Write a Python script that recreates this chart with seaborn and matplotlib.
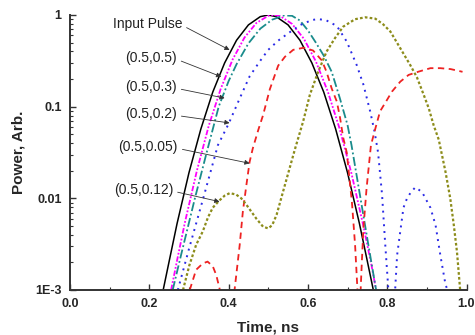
import numpy as np
import pandas as pd
import matplotlib
matplotlib.use("Agg")
import matplotlib.pyplot as plt
import seaborn as sns
from matplotlib.ticker import FixedLocator, NullFormatter, LogLocator

# ---------------- data ----------------
t_input = [0.235, 0.25, 0.27, 0.30, 0.33, 0.36, 0.39, 0.42, 0.45, 0.48, 0.50,
           0.52, 0.55, 0.58, 0.61, 0.64, 0.67, 0.70, 0.73, 0.75, 0.765]
p_input = [0.001, 0.00205, 0.0053, 0.019, 0.057, 0.144, 0.30, 0.53, 0.78, 0.96, 1.0,
           0.96, 0.78, 0.53, 0.30, 0.144, 0.057, 0.019, 0.0053, 0.00205, 0.001]

t_05_05 = [0.255, 0.27, 0.29, 0.32, 0.35, 0.38, 0.41, 0.44, 0.47, 0.50, 0.514,
           0.53, 0.56, 0.59, 0.62, 0.65, 0.68, 0.71, 0.74, 0.76, 0.772]
p_05_05 = [0.001, 0.0021, 0.0055, 0.020, 0.062, 0.156, 0.326, 0.567, 0.818, 0.98, 1.0,
           0.974, 0.80, 0.55, 0.312, 0.147, 0.0575, 0.0186, 0.0050, 0.0019, 0.001]

t_05_03 = [0.259, 0.28, 0.315, 0.345, 0.375, 0.40, 0.42, 0.45, 0.48, 0.51, 0.54,
           0.56, 0.58, 0.60, 0.62, 0.64, 0.66, 0.68, 0.70, 0.71, 0.73, 0.75, 0.772]
p_05_03 = [0.001, 0.0024, 0.01, 0.032, 0.1, 0.19, 0.29, 0.49, 0.71, 0.89, 0.99,
           0.98, 0.87, 0.68, 0.50, 0.36, 0.24, 0.126, 0.063, 0.038, 0.0117, 0.0036, 0.001]

t_05_02 = [0.272, 0.30, 0.336, 0.373, 0.40, 0.428, 0.453, 0.478, 0.50, 0.525, 0.55,
           0.58, 0.61, 0.625, 0.645, 0.673, 0.698, 0.723, 0.74, 0.757, 0.768, 0.777,
           0.787, 0.795, 0.803, 0.811, 0.82, 0.825, 0.833, 0.841, 0.85, 0.86, 0.871,
           0.888, 0.909, 0.922, 0.934, 0.947, 0.952, 0.96]
p_05_02 = [0.001, 0.0028, 0.01, 0.038, 0.065, 0.123, 0.214, 0.309, 0.417, 0.525, 0.63,
           0.776, 0.881, 0.902, 0.881, 0.759, 0.513, 0.285, 0.174, 0.089, 0.0537, 0.0316,
           0.011, 0.00316, 0.001, 0.00001, 0.001, 0.0024, 0.00437, 0.0079, 0.0100, 0.0117, 0.0132,
           0.0117, 0.0079, 0.0051, 0.0024, 0.00115, 0.001, 0.00001]

t_05_005 = [0.302, 0.318, 0.335, 0.347, 0.36, 0.369, 0.378, 0.395,
            0.415, 0.428, 0.436, 0.445, 0.453, 0.461, 0.475, 0.487, 0.504, 0.525, 0.542,
            0.563, 0.59, 0.613, 0.635, 0.647, 0.66, 0.673, 0.681, 0.689, 0.698, 0.711,
            0.719, 0.725, 0.729,
            0.733, 0.736, 0.74, 0.748, 0.759, 0.77, 0.782, 0.799, 0.812, 0.833, 0.854,
            0.879, 0.909, 0.934, 0.96, 0.99]
p_05_005 = [0.001, 0.00166, 0.00195, 0.00204, 0.00182, 0.00145, 0.001, 0.00001,
            0.001, 0.0031, 0.0072, 0.0141, 0.025, 0.035, 0.056, 0.081, 0.155, 0.28, 0.35,
            0.417, 0.44, 0.41, 0.32, 0.24, 0.158, 0.1135, 0.076, 0.046, 0.0316, 0.0091,
            0.0031, 0.001, 0.00001,
            0.001, 0.002, 0.0047, 0.0129, 0.038, 0.0575, 0.089, 0.1175, 0.146, 0.1875, 0.222,
            0.241, 0.263, 0.263, 0.257, 0.24]

t_05_012 = [0.285, 0.301, 0.318, 0.335, 0.348, 0.36, 0.377, 0.39, 0.403, 0.419, 0.432,
            0.445, 0.47, 0.487, 0.50, 0.51, 0.521, 0.537, 0.554, 0.567, 0.588, 0.605,
            0.626, 0.647, 0.668, 0.689, 0.719, 0.745, 0.77, 0.79, 0.808, 0.833, 0.858,
            0.875, 0.892, 0.905, 0.917, 0.93, 0.947, 0.959, 0.968, 0.976, 0.984]
p_05_012 = [0.001, 0.00186, 0.0031, 0.00437, 0.0062, 0.0079, 0.0095, 0.0107, 0.0114, 0.011, 0.010,
            0.0085, 0.006, 0.0049, 0.0047, 0.0051, 0.0066, 0.0117, 0.0214, 0.034, 0.069, 0.135,
            0.241, 0.398, 0.557, 0.746, 0.90, 0.944, 0.912, 0.79, 0.66, 0.434, 0.285,
            0.209, 0.135, 0.0955, 0.063, 0.0437, 0.0195, 0.01, 0.0051, 0.0026, 0.001]

x_ticks = [0.0, 0.2, 0.4, 0.6, 0.8, 1.0]
x_tick_labels = ["0.0", "0.2", "0.4", "0.6", "0.8", "1.0"]
y_ticks = [0.001, 0.01, 0.1, 1.0]
y_tick_labels = ["1E-3", "0.01", "0.1", "1"]

labels = ["Input Pulse", "(0.5,0.5)", "(0.5,0.3)", "(0.5,0.2)", "(0.5,0.05)", "(0.5,0.12)"]
label_xy = [(0.195, 0.80), (0.204, 0.34), (0.204, 0.164), (0.204, 0.083), (0.197, 0.0363), (0.185, 0.0124)]
arrow_xy = [(0.4025, 0.415), (0.3815, 0.212), (0.39, 0.124), (0.4025, 0.0664), (0.453, 0.0241), (0.377, 0.0092)]

# ---------------- style ----------------
sns.set_style("ticks")
plt.rcParams["font.family"] = ["Liberation Sans", "DejaVu Sans"]

fig = plt.figure(figsize=(4.75, 3.35), dpi=100)
ax = fig.add_axes([70 / 475, 45 / 335, 396.5 / 475, 275 / 335])
ax.set_yscale("log")

series = [
    (t_input, p_input, "#000000", "-", 1.1),
    (t_05_05, p_05_05, "#ff00ff", (0, (3, 1, 1, 1, 1, 1)), 1.3),
    (t_05_03, p_05_03, "#1a8c8c", (0, (5, 1.5, 1, 1.5)), 1.3),
    (t_05_02, p_05_02, "#2a2ae6", (0, (1, 2.5)), 1.4),
    (t_05_005, p_05_005, "#ee2222", (0, (3.5, 2.5)), 1.3),
    (t_05_012, p_05_012, "#8c8c1a", (0, (1.2, 1.0)), 1.6),
]
for tx, py, col, ls, lw in series:
    df = pd.DataFrame({"t": tx, "p": py})
    sns.lineplot(data=df, x="t", y="p", ax=ax, color=col, linestyle=ls, lw=lw,
                 estimator=None, sort=False, legend=False)

ax.set_xlim(0, 1.0)
ax.set_ylim(1e-3, 1.0)

ax.xaxis.set_major_locator(FixedLocator(x_ticks))
ax.set_xticklabels(x_tick_labels)
ax.xaxis.set_minor_locator(FixedLocator([0.1, 0.3, 0.5, 0.7, 0.9]))
ax.yaxis.set_major_locator(FixedLocator(y_ticks))
ax.set_yticklabels(y_tick_labels)
ax.yaxis.set_minor_locator(LogLocator(base=10, subs=np.arange(2, 10)))
ax.yaxis.set_minor_formatter(NullFormatter())

for lab in ax.get_xticklabels() + ax.get_yticklabels():
    lab.set_fontweight("bold")
    lab.set_fontsize(9)

ax.tick_params(axis="both", which="major", direction="in", length=4, width=1.0,
               color="#333333", pad=6)
ax.tick_params(axis="both", which="minor", direction="in", length=2.5, width=0.8,
               color="#333333")

for s in ["top", "right"]:
    ax.spines[s].set_visible(False)
for s in ["left", "bottom"]:
    ax.spines[s].set_linewidth(1.4)
    ax.spines[s].set_color("#333333")

ax.set_xlabel("Time, ns", fontsize=11, fontweight="bold", labelpad=7)
ax.set_ylabel("Power, Arb.", fontsize=11, fontweight="bold", labelpad=7)

for lab, (lx, ly), (ax_, ay_) in zip(labels, label_xy, arrow_xy):
    ax.annotate(lab, xy=(ax_, ay_), xytext=(lx, ly), textcoords="data",
                ha="center", va="center", fontsize=10, color="#222222",
                arrowprops=dict(arrowstyle="-|>", color="#333333", lw=0.6,
                                shrinkA=1, shrinkB=0, mutation_scale=7,
                                relpos=(1.0, 0.4)))

fig.savefig("out.png", dpi=100)
